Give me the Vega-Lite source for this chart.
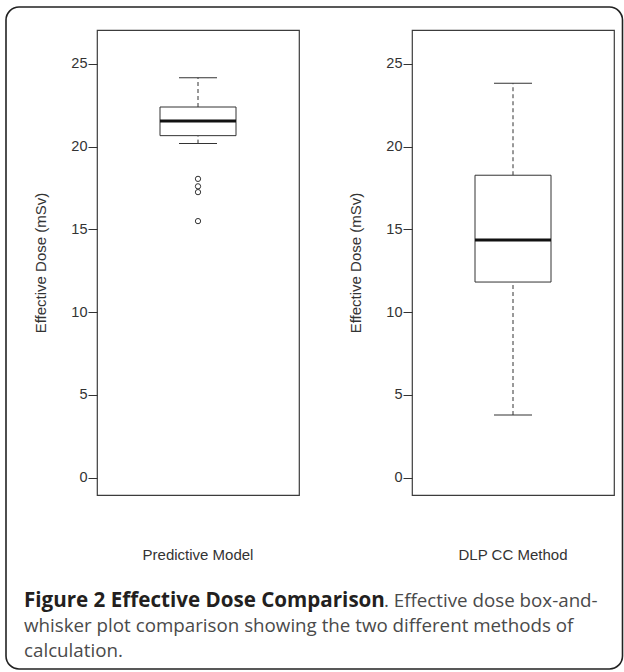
{
  "$schema": "https://vega.github.io/schema/vega-lite/v6.json",
  "padding": {"left": 5, "top": 6, "right": 0, "bottom": 0},
  "background": "white",
  "datasets": {
    "stats": [
      {"method": "Predictive Model", "min": 20.18, "q1": 20.66, "median": 21.55, "q3": 22.39, "max": 24.16},
      {"method": "DLP CC Method", "min": 3.79, "q1": 11.82, "median": 14.36, "q3": 18.27, "max": 23.82}
    ],
    "outliers": [
      {"method": "Predictive Model", "value": 18.05},
      {"method": "Predictive Model", "value": 17.6},
      {"method": "Predictive Model", "value": 17.25},
      {"method": "Predictive Model", "value": 15.5}
    ],
    "caption": [
      {"line": 1, "part": "bold", "text": "Figure 2 Effective Dose Comparison"},
      {"line": 1, "part": "rest", "text": ". Effective dose box-and-"},
      {"line": 2, "part": "plain", "text": "whisker plot comparison showing the two different methods of"},
      {"line": 3, "part": "plain", "text": "calculation."}
    ]
  },
  "config": {
    "view": {"stroke": null},
    "font": "Liberation Sans",
    "axis": {"grid": false},
    "axisY": {"domain": false, "tickSize": 9, "tickColor": "#333", "tickWidth": 1, "labelPadding": 1, "labelFontSize": 14.5, "labelColor": "#333", "labelFont": "Liberation Sans", "titleFont": "Liberation Sans", "titleFontSize": 15, "titleFontWeight": "normal", "titleColor": "#333", "titlePadding": 22},
    "axisX": {"domain": false, "ticks": false, "labelAngle": 0, "labelPadding": 52, "labelFontSize": 15, "labelColor": "#333", "labelFont": "Liberation Sans", "title": null}
  },
  "bounds": "flush",
  "spacing": 535,
  "vconcat": [
    {
      "bounds": "flush",
      "spacing": 113,
      "hconcat": [
        {
          "width": 202,
          "height": 465,
          "view": {"stroke": "#3c3c3c", "strokeWidth": 1.2},
          "encoding": {
            "x": {"field": "method", "type": "nominal", "scale": {"paddingInner": 0, "paddingOuter": 0}}
          },
          "layer": [
            {"data": {"name": "stats"}, "transform": [{"filter": "datum.method === 'Predictive Model'"}],
             "mark": {"type": "rule", "strokeDash": [4, 3], "color": "#333", "strokeWidth": 1},
             "encoding": {"y": {"field": "q3", "type": "quantitative", "scale": {"domain": [-1.04, 27.04], "nice": false, "zero": false}, "axis": {"values": [0, 5, 10, 15, 20, 25], "title": "Effective Dose (mSv)"}}, "y2": {"field": "max"}}},
            {"data": {"name": "stats"}, "transform": [{"filter": "datum.method === 'Predictive Model'"}],
             "mark": {"type": "rule", "strokeDash": [4, 3], "color": "#333", "strokeWidth": 1},
             "encoding": {"y": {"field": "min", "type": "quantitative", "scale": {"domain": [-1.04, 27.04], "nice": false, "zero": false}, "axis": {"values": [0, 5, 10, 15, 20, 25], "title": "Effective Dose (mSv)"}}, "y2": {"field": "q1"}}},
            {"data": {"name": "stats"}, "transform": [{"filter": "datum.method === 'Predictive Model'"}],
             "mark": {"type": "tick", "size": 38, "thickness": 1, "color": "#333", "opacity": 1},
             "encoding": {"y": {"field": "max", "type": "quantitative", "scale": {"domain": [-1.04, 27.04], "nice": false, "zero": false}, "axis": {"values": [0, 5, 10, 15, 20, 25], "title": "Effective Dose (mSv)"}}}},
            {"data": {"name": "stats"}, "transform": [{"filter": "datum.method === 'Predictive Model'"}],
             "mark": {"type": "tick", "size": 38, "thickness": 1, "color": "#333", "opacity": 1},
             "encoding": {"y": {"field": "min", "type": "quantitative", "scale": {"domain": [-1.04, 27.04], "nice": false, "zero": false}, "axis": {"values": [0, 5, 10, 15, 20, 25], "title": "Effective Dose (mSv)"}}}},
            {"data": {"name": "stats"}, "transform": [{"filter": "datum.method === 'Predictive Model'"}],
             "mark": {"type": "bar", "width": 76, "fill": "white", "stroke": "#333", "strokeWidth": 1},
             "encoding": {"y": {"field": "q1", "type": "quantitative", "scale": {"domain": [-1.04, 27.04], "nice": false, "zero": false}, "axis": {"values": [0, 5, 10, 15, 20, 25], "title": "Effective Dose (mSv)"}}, "y2": {"field": "q3"}}},
            {"data": {"name": "stats"}, "transform": [{"filter": "datum.method === 'Predictive Model'"}],
             "mark": {"type": "tick", "size": 76, "thickness": 3, "color": "#111", "opacity": 1},
             "encoding": {"y": {"field": "median", "type": "quantitative", "scale": {"domain": [-1.04, 27.04], "nice": false, "zero": false}, "axis": {"values": [0, 5, 10, 15, 20, 25], "title": "Effective Dose (mSv)"}}}},
            {"data": {"name": "outliers"}, "transform": [{"filter": "datum.method === 'Predictive Model'"}],
             "mark": {"type": "point", "shape": "circle", "filled": false, "size": 28, "stroke": "#333", "strokeWidth": 1, "opacity": 1},
             "encoding": {"y": {"field": "value", "type": "quantitative", "scale": {"domain": [-1.04, 27.04], "nice": false, "zero": false}, "axis": {"values": [0, 5, 10, 15, 20, 25], "title": "Effective Dose (mSv)"}}}}
          ]
        },
        {
          "width": 202,
          "height": 465,
          "view": {"stroke": "#3c3c3c", "strokeWidth": 1.2},
          "encoding": {
            "x": {"field": "method", "type": "nominal", "scale": {"paddingInner": 0, "paddingOuter": 0}}
          },
          "layer": [
            {"data": {"name": "stats"}, "transform": [{"filter": "datum.method === 'DLP CC Method'"}],
             "mark": {"type": "rule", "strokeDash": [4, 3], "color": "#333", "strokeWidth": 1},
             "encoding": {"y": {"field": "q3", "type": "quantitative", "scale": {"domain": [-1.04, 27.04], "nice": false, "zero": false}, "axis": {"values": [0, 5, 10, 15, 20, 25], "title": "Effective Dose (mSv)"}}, "y2": {"field": "max"}}},
            {"data": {"name": "stats"}, "transform": [{"filter": "datum.method === 'DLP CC Method'"}],
             "mark": {"type": "rule", "strokeDash": [4, 3], "color": "#333", "strokeWidth": 1},
             "encoding": {"y": {"field": "min", "type": "quantitative", "scale": {"domain": [-1.04, 27.04], "nice": false, "zero": false}, "axis": {"values": [0, 5, 10, 15, 20, 25], "title": "Effective Dose (mSv)"}}, "y2": {"field": "q1"}}},
            {"data": {"name": "stats"}, "transform": [{"filter": "datum.method === 'DLP CC Method'"}],
             "mark": {"type": "tick", "size": 38, "thickness": 1, "color": "#333", "opacity": 1},
             "encoding": {"y": {"field": "max", "type": "quantitative", "scale": {"domain": [-1.04, 27.04], "nice": false, "zero": false}, "axis": {"values": [0, 5, 10, 15, 20, 25], "title": "Effective Dose (mSv)"}}}},
            {"data": {"name": "stats"}, "transform": [{"filter": "datum.method === 'DLP CC Method'"}],
             "mark": {"type": "tick", "size": 38, "thickness": 1, "color": "#333", "opacity": 1},
             "encoding": {"y": {"field": "min", "type": "quantitative", "scale": {"domain": [-1.04, 27.04], "nice": false, "zero": false}, "axis": {"values": [0, 5, 10, 15, 20, 25], "title": "Effective Dose (mSv)"}}}},
            {"data": {"name": "stats"}, "transform": [{"filter": "datum.method === 'DLP CC Method'"}],
             "mark": {"type": "bar", "width": 76, "fill": "white", "stroke": "#333", "strokeWidth": 1},
             "encoding": {"y": {"field": "q1", "type": "quantitative", "scale": {"domain": [-1.04, 27.04], "nice": false, "zero": false}, "axis": {"values": [0, 5, 10, 15, 20, 25], "title": "Effective Dose (mSv)"}}, "y2": {"field": "q3"}}},
            {"data": {"name": "stats"}, "transform": [{"filter": "datum.method === 'DLP CC Method'"}],
             "mark": {"type": "tick", "size": 76, "thickness": 3, "color": "#111", "opacity": 1},
             "encoding": {"y": {"field": "median", "type": "quantitative", "scale": {"domain": [-1.04, 27.04], "nice": false, "zero": false}, "axis": {"values": [0, 5, 10, 15, 20, 25], "title": "Effective Dose (mSv)"}}}}
          ]
        }
      ]
    },
    {
      "width": 516,
      "height": 104,
      "data": {"name": "caption"},
      "encoding": {
        "x": {"datum": -73, "type": "quantitative", "scale": {"domain": [0, 516], "nice": false, "zero": false}, "axis": null},
        "y": {"field": "line", "type": "quantitative", "scale": {"domain": [-0.68, 3.48], "nice": false, "zero": false, "reverse": true}, "axis": null},
        "text": {"field": "text"}
      },
      "layer": [
        {"mark": {"type": "rect", "fill": null, "fillOpacity": 0, "stroke": "#222", "strokeWidth": 1.6, "cornerRadius": 13},
         "transform": [{"filter": "datum.part === 'bold'"}],
         "encoding": {"x": {"datum": -91, "type": "quantitative"}, "x2": {"datum": 525.5}, "y": {"datum": -23.0, "type": "quantitative"}, "y2": {"datum": 3.48}, "text": null}},
        {"transform": [{"filter": "datum.part === 'bold'"}], "mark": {"type": "text", "align": "left", "baseline": "alphabetic", "font": "Open Sans", "fontSize": 20.6, "fontWeight": "bold", "color": "#231f20"}},
        {"transform": [{"filter": "datum.part === 'rest'"}], "mark": {"type": "text", "align": "left", "baseline": "alphabetic", "font": "Open Sans", "fontSize": 18.75, "color": "#4a4a4a", "dx": 360}},
        {"transform": [{"filter": "datum.part === 'plain'"}], "mark": {"type": "text", "align": "left", "baseline": "alphabetic", "font": "Open Sans", "fontSize": 18.75, "color": "#4a4a4a"}}
      ]
    }
  ]
}
